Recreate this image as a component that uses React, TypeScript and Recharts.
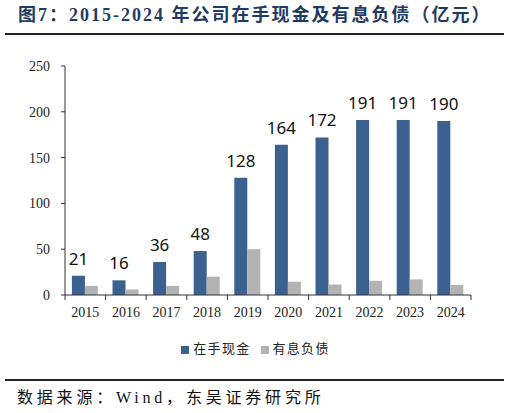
import { BarChart, Bar, XAxis, YAxis, Legend, LabelList } from "recharts";

const years = ["2015", "2016", "2017", "2018", "2019", "2020", "2021", "2022", "2023", "2024"];
const cashOnHand = [21, 16, 36, 48, 128, 164, 172, 191, 191, 190];
const interestDebt = [10, 6, 10, 20, 50, 14.5, 11.5, 15.5, 17, 11];
const seriesNames = ["在手现金", "有息负债"];
const yTicks = [0, 50, 100, 150, 200, 250];

const data = years.map((year, i) => ({
  year,
  cash: cashOnHand[i],
  debt: interestDebt[i],
}));

const serif = '"Liberation Serif", "Times New Roman", "Noto Sans CJK SC", serif';

// excel style: tick marks sit on category boundaries, not centres
const YearTick = (props: any) => {
  const { x, y, payload, index, visibleTicksCount } = props;
  const half = payload && typeof payload.offset === "number" ? payload.offset : 20.3;
  const last = index === (visibleTicksCount ?? years.length) - 1;
  return (
    <g>
      <line x1={x - half} x2={x - half} y1={y} y2={y + 5} stroke="#333" />
      {last && <line x1={x + half} x2={x + half} y1={y} y2={y + 5} stroke="#333" />}
      <text x={x} y={y + 12} dy="0.71em" textAnchor="middle" fontSize={14} fontFamily={serif} fill="#222">
        {payload.value}
      </text>
    </g>
  );
};

export default function App() {
  return (
    <div style={{ position: "absolute", left: 0, top: 0, width: 510, height: 413, background: "#fff" }}>
      <div
        style={{
          position: "absolute",
          left: 18,
          top: 5,
          lineHeight: "20px",
          fontSize: 18,
          fontWeight: "bold",
          letterSpacing: 2,
          color: "#1F3A63",
          fontFamily: serif,
          whiteSpace: "nowrap",
        }}
      >
        图7：2015-2024 年公司在手现金及有息负债（亿元）
      </div>
      <div style={{ position: "absolute", left: 5, top: 33, width: 499, height: 2, background: "#222" }} />

      <BarChart
        width={510}
        height={413}
        data={data}
        margin={{ top: 66, right: 39, left: 0, bottom: 88 }}
        barCategoryGap="17%"
        barGap={0}
      >
        <XAxis
          dataKey="year"
          height={30}
          axisLine={{ stroke: "#333" }}
          tickLine={false}
          tickSize={0}
          tickMargin={0}
          tick={<YearTick />}
          interval={0}
        />
        <YAxis
          width={65}
          domain={[0, 250]}
          ticks={yTicks}
          axisLine={{ stroke: "#333" }}
          tickLine={{ stroke: "#333" }}
          tickSize={4}
          tickMargin={11}
          tick={{ fontSize: 14, fontFamily: serif, fill: "#222" }}
        />
        <Legend
          layout="horizontal"
          verticalAlign="middle"
          align="center"
          iconType="square"
          iconSize={8}
          wrapperStyle={{ top: 338, left: 25, fontSize: 13, fontFamily: serif, letterSpacing: 1.3 }}
          formatter={(value) => <span style={{ color: "#222" }}>{value}</span>}
        />
        <Bar dataKey="cash" name={seriesNames[0]} fill="#3A6190" isAnimationActive={false}>
          <LabelList
            dataKey="cash"
            position="top"
            offset={11}
            style={{ fontSize: 17, fontFamily: '"Noto Sans", sans-serif', fill: "#111" }}
          />
        </Bar>
        <Bar dataKey="debt" name={seriesNames[1]} fill="#B3B3B3" isAnimationActive={false} />
      </BarChart>

      <div style={{ position: "absolute", left: 5, top: 379, width: 499, height: 2, background: "#222" }} />
      <div
        style={{
          position: "absolute",
          left: 17,
          top: 388,
          lineHeight: "20px",
          fontSize: 16,
          letterSpacing: 3.8,
          color: "#111",
          fontFamily: serif,
          whiteSpace: "nowrap",
        }}
      >
        数据来源：Wind，东吴证券研究所
      </div>
    </div>
  );
}
